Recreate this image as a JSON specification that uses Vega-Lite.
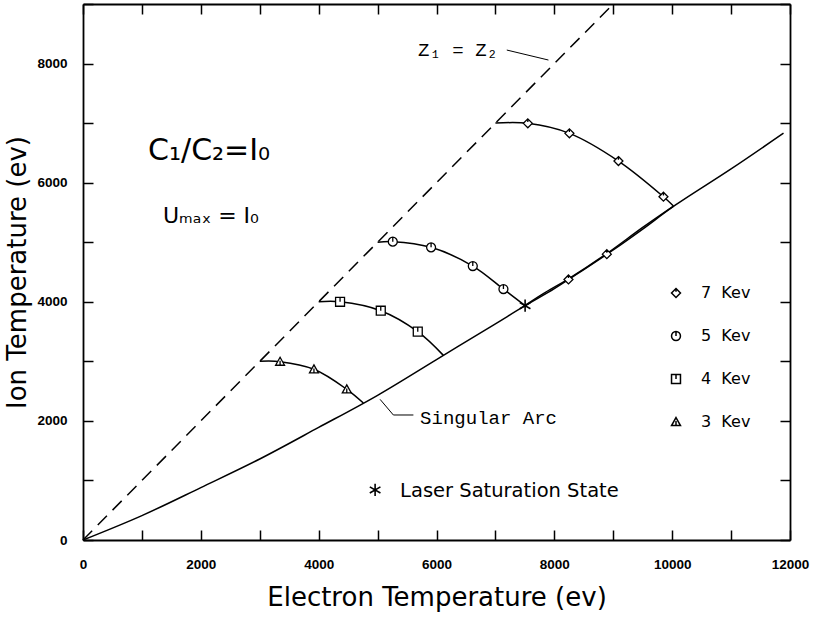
{
  "$schema": "https://vega.github.io/schema/vega-lite/v6.json",
  "width": 707,
  "height": 536,
  "autosize": "none",
  "padding": {"left": 83, "top": 4, "right": 23, "bottom": 79},
  "background": "white",
  "config": {
    "view": {"stroke": null},
    "axis": {
      "domainColor": "black",
      "domainWidth": 1.8,
      "tickColor": "black",
      "tickWidth": 1.5,
      "tickSize": -10,
      "grid": false,
      "labelColor": "black",
      "labelFont": "Liberation Sans",
      "labelFontWeight": "bold",
      "labelFontSize": 13.5,
      "labelOverlap": false,
      "labelFlush": false
    }
  },
  "datasets": {
    "dashed": [
      {"x": 0, "y": 0},
      {"x": 9000, "y": 9000}
    ],
    "curves": [
      {"path": "sa", "i": 0, "x": 0, "y": 0},
      {"path": "sa", "i": 1, "x": 1000, "y": 410},
      {"path": "sa", "i": 2, "x": 2000, "y": 880},
      {"path": "sa", "i": 3, "x": 3000, "y": 1360},
      {"path": "sa", "i": 4, "x": 4000, "y": 1890},
      {"path": "sa", "i": 5, "x": 5000, "y": 2430},
      {"path": "sa", "i": 6, "x": 6000, "y": 3030},
      {"path": "sa", "i": 7, "x": 7000, "y": 3630},
      {"path": "sa", "i": 8, "x": 7504, "y": 3934},
      {"path": "sa", "i": 9, "x": 8000, "y": 4220},
      {"path": "sa", "i": 10, "x": 8500, "y": 4540},
      {"path": "sa", "i": 11, "x": 9000, "y": 4870},
      {"path": "sa", "i": 12, "x": 9500, "y": 5220},
      {"path": "sa", "i": 13, "x": 10022, "y": 5600},
      {"path": "sa", "i": 14, "x": 11000, "y": 6230},
      {"path": "sa", "i": 15, "x": 11890, "y": 6830},
      {"path": "k3", "i": 0, "x": 3000, "y": 3000},
      {"path": "k3", "i": 1, "x": 3345, "y": 2994},
      {"path": "k3", "i": 2, "x": 3920, "y": 2866},
      {"path": "k3", "i": 3, "x": 4477, "y": 2530},
      {"path": "k3", "i": 4, "x": 4759, "y": 2300},
      {"path": "k4", "i": 0, "x": 4000, "y": 4000},
      {"path": "k4", "i": 1, "x": 4363, "y": 4000},
      {"path": "k4", "i": 2, "x": 5054, "y": 3850},
      {"path": "k4", "i": 3, "x": 5682, "y": 3498},
      {"path": "k4", "i": 4, "x": 6117, "y": 3100},
      {"path": "k5", "i": 0, "x": 5000, "y": 5000},
      {"path": "k5", "i": 1, "x": 5258, "y": 5010},
      {"path": "k5", "i": 2, "x": 5908, "y": 4914},
      {"path": "k5", "i": 3, "x": 6616, "y": 4600},
      {"path": "k5", "i": 4, "x": 7136, "y": 4214},
      {"path": "k5", "i": 5, "x": 7504, "y": 3934},
      {"path": "k7a", "i": 0, "x": 7000, "y": 7000},
      {"path": "k7a", "i": 1, "x": 7550, "y": 6996},
      {"path": "k7a", "i": 2, "x": 8256, "y": 6828},
      {"path": "k7a", "i": 3, "x": 9088, "y": 6363},
      {"path": "k7a", "i": 4, "x": 9852, "y": 5764},
      {"path": "k7a", "i": 5, "x": 10022, "y": 5608},
      {"path": "k7b", "i": 0, "x": 10022, "y": 5608},
      {"path": "k7b", "i": 1, "x": 9500, "y": 5250},
      {"path": "k7b", "i": 2, "x": 8891, "y": 4810},
      {"path": "k7b", "i": 3, "x": 8240, "y": 4385},
      {"path": "k7b", "i": 4, "x": 7800, "y": 4130},
      {"path": "k7b", "i": 5, "x": 7504, "y": 3940}
    ],
    "leaders": [
      {"path": "z", "i": 0, "x": 7193, "y": 8227},
      {"path": "z", "i": 1, "x": 7900, "y": 8059},
      {"path": "s", "i": 0, "x": 5042, "y": 2362},
      {"path": "s", "i": 1, "x": 5268, "y": 2099},
      {"path": "s", "i": 2, "x": 5608, "y": 2099}
    ],
    "markers": [
      {"series": "7\u00a0\u00a0Kev", "x": 7550, "y": 6996},
      {"series": "7\u00a0\u00a0Kev", "x": 8256, "y": 6828},
      {"series": "7\u00a0\u00a0Kev", "x": 9088, "y": 6363},
      {"series": "7\u00a0\u00a0Kev", "x": 9852, "y": 5764},
      {"series": "7\u00a0\u00a0Kev", "x": 8891, "y": 4800},
      {"series": "7\u00a0\u00a0Kev", "x": 8240, "y": 4375},
      {"series": "5\u00a0\u00a0Kev", "x": 5258, "y": 5010},
      {"series": "5\u00a0\u00a0Kev", "x": 5908, "y": 4914},
      {"series": "5\u00a0\u00a0Kev", "x": 6616, "y": 4600},
      {"series": "5\u00a0\u00a0Kev", "x": 7136, "y": 4214},
      {"series": "4\u00a0\u00a0Kev", "x": 4363, "y": 4000},
      {"series": "4\u00a0\u00a0Kev", "x": 5054, "y": 3850},
      {"series": "4\u00a0\u00a0Kev", "x": 5682, "y": 3498},
      {"series": "3\u00a0\u00a0Kev", "x": 3345, "y": 2994},
      {"series": "3\u00a0\u00a0Kev", "x": 3920, "y": 2866},
      {"series": "3\u00a0\u00a0Kev", "x": 4477, "y": 2530}
    ],
    "stars": [
      {"x": 7504, "y": 3934},
      {"x": 4958, "y": 840}
    ],
    "notes": [
      {"kind": "big", "x": 1104, "y": 6380, "text": "C₁/C₂=I₀"},
      {"kind": "mid", "x": 1358, "y": 5322, "text": "Uₘₐₓ = I₀"},
      {"kind": "mono", "x": 5688, "y": 8126, "text": "Z₁ = Z₂"},
      {"kind": "mono", "x": 5722, "y": 1948, "text": "Singular Arc"},
      {"kind": "sans", "x": 5382, "y": 722, "text": "Laser Saturation State"}
    ]
  },
  "layer": [
    {
      "data": {"name": "dashed"},
      "mark": {"type": "line", "color": "black", "strokeWidth": 1.5, "strokeDash": [13, 8]},
      "encoding": {
        "x": {
          "field": "x", "type": "quantitative",
          "scale": {"domain": [0, 12000], "nice": false, "zero": false},
          "axis": {
            "orient": "bottom",
            "values": [0, 1000, 2000, 3000, 4000, 5000, 6000, 7000, 8000, 9000, 10000, 11000, 12000],
            "format": "d",
            "labelExpr": "datum.value % 2000 === 0 ? datum.label : ''",
            "labelPadding": 27,
            "title": "Electron Temperature (ev)",
            "titleFont": "DejaVu Sans",
            "titleFontSize": 26,
            "titleFontWeight": "normal",
            "titleColor": "black",
            "titleX": 353.5,
            "titleY": 65,
            "titleAlign": "center",
            "titleBaseline": "alphabetic"
          }
        },
        "y": {
          "field": "y", "type": "quantitative",
          "scale": {"domain": [0, 9000], "nice": false, "zero": false},
          "axis": {
            "orient": "left",
            "values": [0, 1000, 2000, 3000, 4000, 5000, 6000, 7000, 8000, 9000],
            "format": "d",
            "labelExpr": "datum.value % 2000 === 0 ? datum.label : ''",
            "labelPadding": 26,
            "title": "Ion Temperature (ev)",
            "titleFont": "DejaVu Sans",
            "titleFontSize": 26,
            "titleFontWeight": "normal",
            "titleColor": "black",
            "titleAngle": -90,
            "titleX": -58,
            "titleY": 268,
            "titleAlign": "center",
            "titleBaseline": "alphabetic"
          }
        }
      }
    },
    {
      "data": {"name": "curves"},
      "mark": {"type": "line", "color": "black", "strokeWidth": 1.5, "interpolate": "catmull-rom"},
      "encoding": {
        "x": {
          "field": "x", "type": "quantitative",
          "axis": {
            "orient": "top",
            "values": [0, 1000, 2000, 3000, 4000, 5000, 6000, 7000, 8000, 9000, 10000, 11000, 12000],
            "labels": false,
            "title": null
          }
        },
        "y": {
          "field": "y", "type": "quantitative",
          "axis": {
            "orient": "right",
            "values": [0, 1000, 2000, 3000, 4000, 5000, 6000, 7000, 8000, 9000],
            "labels": false,
            "title": null
          }
        },
        "detail": {"field": "path"},
        "order": {"field": "i", "type": "quantitative"}
      }
    },
    {
      "data": {"name": "leaders"},
      "mark": {"type": "line", "color": "black", "strokeWidth": 1},
      "encoding": {
        "x": {"field": "x", "type": "quantitative", "axis": null},
        "y": {"field": "y", "type": "quantitative", "axis": null},
        "detail": {"field": "path"},
        "order": {"field": "i", "type": "quantitative"}
      }
    },
    {
      "data": {"name": "markers"},
      "mark": {"type": "point", "filled": false, "stroke": "black", "fill": "white", "fillOpacity": 1, "strokeWidth": 1.3, "size": 80, "opacity": 1},
      "encoding": {
        "x": {"field": "x", "type": "quantitative", "axis": null},
        "y": {"field": "y", "type": "quantitative", "axis": null},
        "shape": {
          "field": "series", "type": "nominal",
          "scale": {
            "domain": ["7\u00a0\u00a0Kev", "5\u00a0\u00a0Kev", "4\u00a0\u00a0Kev", "3\u00a0\u00a0Kev"],
            "range": [
              "M0,-1L1,0L0,1L-1,0Z M0,-1L0,-0.3",
              "M1,0A1,1 0 1,1 -1,0A1,1 0 1,1 1,0Z M0,-1L0,0",
              "M-1,-1H1V1H-1Z M0,-1V0",
              "M0,-1L1,0.8H-1Z M0,-0.2V0.8"
            ]
          },
          "legend": {
            "orient": "none",
            "legendX": 585,
            "legendY": 281,
            "title": null,
            "padding": 0,
            "labelFont": "DejaVu Sans",
            "labelFontSize": 16,
            "labelColor": "black",
            "labelOffset": 17,
            "symbolSize": 80,
            "rowPadding": 27,
            "encode": {
              "symbols": {
                "update": {
                  "stroke": {"value": "black"},
                  "strokeWidth": {"value": 1.3},
                  "fill": {"value": "white"},
                  "opacity": {"value": 1},
                  "fillOpacity": {"value": 1},
                  "strokeOpacity": {"value": 1}
                }
              }
            }
          }
        }
      }
    },
    {
      "data": {"name": "stars"},
      "mark": {"type": "point", "filled": false, "stroke": "black", "strokeWidth": 1.6, "size": 150, "opacity": 1, "shape": "M0,-1V1M-0.87,-0.5L0.87,0.5M-0.87,0.5L0.87,-0.5"},
      "encoding": {
        "x": {"field": "x", "type": "quantitative", "axis": null},
        "y": {"field": "y", "type": "quantitative", "axis": null}
      }
    },
    {
      "data": {"name": "notes"},
      "transform": [{"filter": "datum.kind === 'big'"}],
      "mark": {"type": "text", "align": "left", "baseline": "alphabetic", "font": "DejaVu Sans", "fontSize": 30, "color": "black"},
      "encoding": {
        "x": {"field": "x", "type": "quantitative", "axis": null},
        "y": {"field": "y", "type": "quantitative", "axis": null},
        "text": {"field": "text"}
      }
    },
    {
      "data": {"name": "notes"},
      "transform": [{"filter": "datum.kind === 'mid'"}],
      "mark": {"type": "text", "align": "left", "baseline": "alphabetic", "font": "DejaVu Sans", "fontSize": 22, "color": "black"},
      "encoding": {
        "x": {"field": "x", "type": "quantitative", "axis": null},
        "y": {"field": "y", "type": "quantitative", "axis": null},
        "text": {"field": "text"}
      }
    },
    {
      "data": {"name": "notes"},
      "transform": [{"filter": "datum.kind === 'mono'"}],
      "mark": {"type": "text", "align": "left", "baseline": "alphabetic", "font": "Liberation Mono", "fontSize": 19, "color": "black"},
      "encoding": {
        "x": {"field": "x", "type": "quantitative", "axis": null},
        "y": {"field": "y", "type": "quantitative", "axis": null},
        "text": {"field": "text"}
      }
    },
    {
      "data": {"name": "notes"},
      "transform": [{"filter": "datum.kind === 'sans'"}],
      "mark": {"type": "text", "align": "left", "baseline": "alphabetic", "font": "DejaVu Sans", "fontSize": 19.5, "color": "black"},
      "encoding": {
        "x": {"field": "x", "type": "quantitative", "axis": null},
        "y": {"field": "y", "type": "quantitative", "axis": null},
        "text": {"field": "text"}
      }
    }
  ]
}
